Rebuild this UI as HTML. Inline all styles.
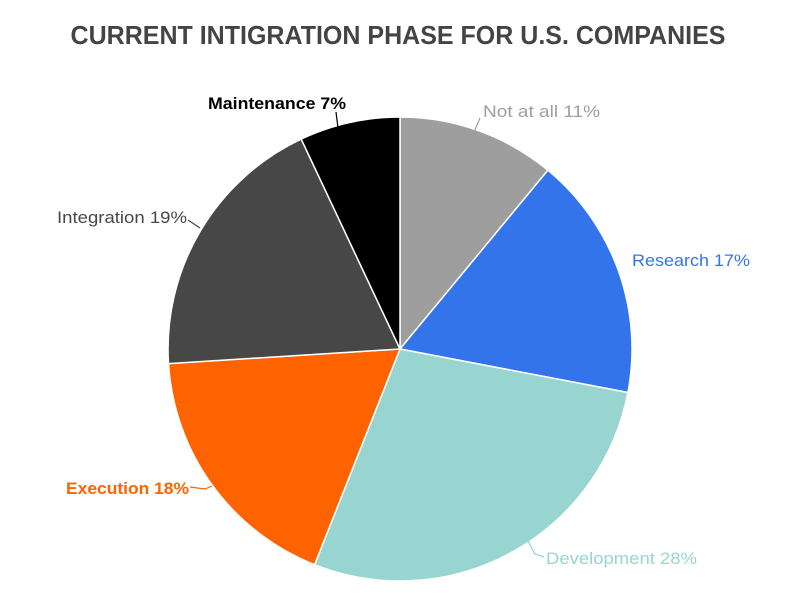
<!DOCTYPE html>
<html><head><meta charset="utf-8"><style>
html,body{margin:0;padding:0;background:#fff;}
svg{display:block;}
text{font-family:"Liberation Sans",sans-serif;}
</style></head><body>
<svg width="800" height="607" viewBox="0 0 800 607">
<rect width="800" height="607" fill="#fff"/>
<text x="398" y="44" text-anchor="middle" font-size="26" font-weight="bold" fill="#444" textLength="655" lengthAdjust="spacingAndGlyphs">CURRENT INTIGRATION PHASE FOR U.S. COMPANIES</text>
<g stroke="#fff" stroke-width="1.5">
<path d="M400,349 L400,117 A232,232 0 0 1 547.9,170.2 Z" fill="#9e9e9e"/>
<path d="M400,349 L547.9,170.2 A232,232 0 0 1 627.9,392.5 Z" fill="#3474eb"/>
<path d="M400,349 L627.9,392.5 A232,232 0 0 1 314.6,564.7 Z" fill="#98d5d0"/>
<path d="M400,349 L314.6,564.7 A232,232 0 0 1 168.5,363.6 Z" fill="#ff6300"/>
<path d="M400,349 L168.5,363.6 A232,232 0 0 1 301.2,139.1 Z" fill="#474747"/>
<path d="M400,349 L301.2,139.1 A232,232 0 0 1 400,117 Z" fill="#000"/>
</g>
<g fill="none" stroke-width="1.2">
<path d="M480,118 L472,137" stroke="#9e9e9e"/>
<path d="M336,112 L338,128" stroke="#000"/>
<path d="M188,220 L200,228" stroke="#474747"/>
<path d="M190,487 L205,489 L212,486" stroke="#ff6300"/>
<path d="M514,549 L528,541 L535,554 L544,557" stroke="#98d5d0"/>
</g>
<g font-size="17">
<text x="483" y="117" fill="#9e9e9e" textLength="117" lengthAdjust="spacingAndGlyphs">Not at all 11%</text>
<text x="632" y="266" fill="#3474eb" textLength="118" lengthAdjust="spacingAndGlyphs">Research 17%</text>
<text x="546" y="564" fill="#98d5d0" textLength="151" lengthAdjust="spacingAndGlyphs">Development 28%</text>
<text x="66" y="494" fill="#ff6300" font-weight="bold" textLength="123" lengthAdjust="spacingAndGlyphs">Execution 18%</text>
<text x="57" y="223" fill="#474747" textLength="130" lengthAdjust="spacingAndGlyphs">Integration 19%</text>
<text x="208" y="109" fill="#000" font-weight="bold" textLength="138" lengthAdjust="spacingAndGlyphs">Maintenance 7%</text>
</g>
</svg>
</body></html>
